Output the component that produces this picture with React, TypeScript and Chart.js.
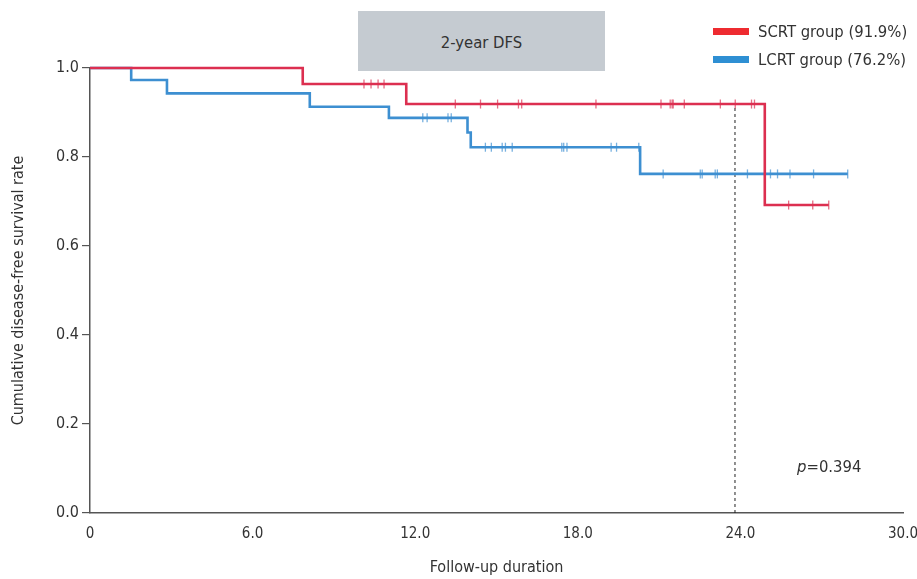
import React, { useEffect, useRef } from "react";
import { Chart, registerables } from "chart.js";
Chart.register(...registerables);

// SCRT group (red): event times and survival after each step
const scrtTimes = [0, 7.85, 11.67, 24.9];
const scrtSurv = [1.0, 0.964, 0.919, 0.692];
const scrtCensor = [10.11, 10.37, 10.63, 10.85, 13.48, 14.41, 15.04, 15.81, 15.93, 18.67, 21.07, 21.41, 21.48, 21.52, 21.93, 23.26, 23.81, 24.41, 24.52, 25.78, 26.67, 27.26];
const scrtEnd = 27.26;

// LCRT group (blue)
const lcrtTimes = [0, 1.52, 2.84, 8.11, 11.03, 13.93, 14.05, 20.3];
const lcrtSurv = [1.0, 0.973, 0.943, 0.913, 0.888, 0.855, 0.822, 0.762];
const lcrtCensor = [12.28, 12.44, 13.21, 13.33, 14.59, 14.81, 15.21, 15.33, 15.58, 17.41, 17.48, 17.6, 19.23, 19.43, 20.25, 21.15, 22.52, 22.59, 23.07, 23.15, 24.26, 25.11, 25.37, 25.83, 26.7, 27.96];
const lcrtEnd = 27.96;

const refTime = 23.8; // 2-year reference line
const refSurv = 0.919;

const xTicks = [0, 6, 12, 18, 24, 30];
const yTicks = [0, 0.2, 0.4, 0.6, 0.8, 1.0];

const legendLabels = ["SCRT group (91.9%)", "LCRT group (76.2%)"];
const boxLabel = "2-year DFS";
const pValue = "0.394";

const FONT = '"Liberation Sans Narrow", "DejaVu Sans Condensed", "Roboto", sans-serif';
const TEXT = "#333333";
const RED = "#dc2f50";
const BLUE = "#3d8fd1";

function survAt(times: number[], surv: number[], t: number) {
  let s = surv[0];
  for (let i = 0; i < times.length; i++) if (times[i] <= t) s = surv[i];
  return s;
}

function curve(times: number[], surv: number[], end: number) {
  const pts = times.map((t, i) => ({ x: t, y: surv[i] }));
  pts.push({ x: end, y: surv[surv.length - 1] });
  return pts;
}

export default function App() {
  const ref = useRef<HTMLCanvasElement>(null);
  useEffect(() => {
    if (!ref.current) return;
    const chart = new Chart(ref.current, {
      type: "line",
      data: {
        datasets: [
          {
            label: "SCRT",
            data: curve(scrtTimes, scrtSurv, scrtEnd),
            borderColor: RED,
            borderWidth: 2.6,
            stepped: "before",
            pointRadius: 0,
            fill: false,
            clip: 6,
          },
          {
            label: "SCRT censored",
            data: scrtCensor.map((t) => ({ x: t, y: survAt(scrtTimes, scrtSurv, t) })),
            showLine: false,
            pointStyle: "line",
            rotation: 90,
            pointRadius: 4.5,
            pointBorderWidth: 1.3,
            pointBorderColor: "rgba(220,47,80,0.7)",
            borderColor: "rgba(220,47,80,0.7)",
            clip: 6,
          },
          {
            label: "LCRT",
            data: curve(lcrtTimes, lcrtSurv, lcrtEnd),
            borderColor: BLUE,
            borderWidth: 2.6,
            stepped: "before",
            pointRadius: 0,
            fill: false,
            clip: 6,
          },
          {
            label: "LCRT censored",
            data: lcrtCensor.map((t) => ({ x: t, y: survAt(lcrtTimes, lcrtSurv, t) })),
            showLine: false,
            pointStyle: "line",
            rotation: 90,
            pointRadius: 4.5,
            pointBorderWidth: 1.3,
            pointBorderColor: "rgba(61,143,209,0.7)",
            borderColor: "rgba(61,143,209,0.7)",
            clip: 6,
          },
          {
            label: "ref",
            data: [
              { x: refTime, y: 0 },
              { x: refTime, y: refSurv },
            ],
            borderColor: "#222222",
            borderWidth: 1,
            borderDash: [3, 3],
            pointRadius: 0,
          },
        ],
      },
      options: {
        animation: false,
        responsive: false,
        layout: { padding: { left: 0, top: 68, right: 14, bottom: 0 } },
        plugins: { legend: { display: false }, tooltip: { enabled: false } },
        scales: {
          x: {
            type: "linear",
            min: 0,
            max: 30,
            afterBuildTicks: (s: any) => {
              s.ticks = xTicks.map((v) => ({ value: v }));
            },
            afterFit: (s: any) => {
              s.height = 66;
              s.paddingRight = 0;
              s.paddingLeft = 0;
            },
            ticks: {
              color: TEXT,
              font: { family: FONT, size: 15 },
              padding: 12,
              maxRotation: 0,
              callback: (v: any) => (v === 0 ? "0" : Number(v).toFixed(1)),
            },
            grid: { drawOnChartArea: false, drawTicks: false },
            border: { display: true, color: "#555555", width: 1.5 },
            title: {
              display: true,
              text: "Follow-up duration",
              color: TEXT,
              font: { family: FONT, size: 16 },
              padding: { top: 0, bottom: 2 },
            },
          },
          y: {
            type: "linear",
            min: 0,
            max: 1,
            afterBuildTicks: (s: any) => {
              s.ticks = yTicks.map((v) => ({ value: v }));
            },
            afterFit: (s: any) => {
              s.width = 90;
            },
            ticks: {
              color: TEXT,
              font: { family: FONT, size: 16 },
              padding: 3,
              callback: (v: any) => Number(v).toFixed(1),
            },
            grid: { drawOnChartArea: false, drawTicks: true, tickLength: 8, color: "#555555", lineWidth: 1.2 },
            border: { display: true, color: "#555555", width: 1.5 },
            title: {
              display: true,
              text: "Cumulative disease-free survival rate",
              color: TEXT,
              font: { family: FONT, size: 16 },
              padding: { top: 9, bottom: 0 },
            },
          },
        },
      },
    } as any);
    return () => chart.destroy();
  }, []);

  const textStyle: React.CSSProperties = { fontFamily: FONT, color: TEXT, position: "absolute", whiteSpace: "nowrap" };

  return (
    <div style={{ position: "absolute", left: 0, top: 0, width: 917, height: 579, background: "#ffffff" }}>
      <div
        style={{
          position: "absolute",
          left: 358,
          top: 11,
          width: 247,
          height: 60,
          background: "#c5cbd1",
        }}
      />
      <div style={{ ...textStyle, left: 358, width: 247, top: 11, height: 60, lineHeight: "64px", textAlign: "center", fontSize: 16.5 }}>
        {boxLabel}
      </div>
      <canvas ref={ref} width={917} height={579} style={{ position: "absolute", left: 0, top: 0 }} />
      <div style={{ position: "absolute", left: 713, top: 28, width: 36, height: 7, background: "#ee2b30" }} />
      <div style={{ position: "absolute", left: 713, top: 56, width: 36, height: 7, background: "#2e8fd3" }} />
      <div style={{ ...textStyle, left: 758, top: 20, fontSize: 16.5, lineHeight: "24px" }}>{legendLabels[0]}</div>
      <div style={{ ...textStyle, left: 758, top: 48, fontSize: 16.5, lineHeight: "24px" }}>{legendLabels[1]}</div>
      <div style={{ ...textStyle, left: 797, top: 455, fontSize: 16.5, lineHeight: "24px" }}>
        <i>p</i>={pValue}
      </div>
    </div>
  );
}
